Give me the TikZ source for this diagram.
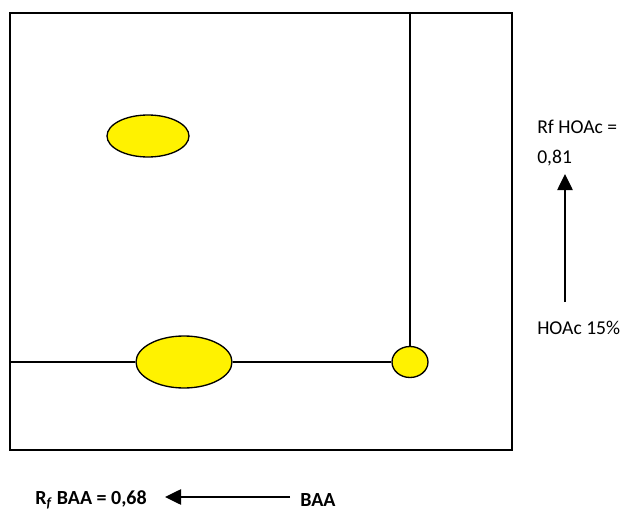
\documentclass[tikz,border=0pt]{standalone}
\usepackage{fontspec}
\setmainfont{Carlito}
\usetikzlibrary{shapes.geometric,arrows.meta}
\begin{document}
\begin{tikzpicture}[x=0.75pt,y=-0.75pt,
  spot/.style={ellipse,draw=black,line width=1pt,fill=yellow,inner sep=0pt},
  plate/.style={draw=black,line width=1.3pt},
  lbl/.style={anchor=west,inner sep=0pt,font=\fontsize{14.7}{17}\selectfont},
  blbl/.style={anchor=west,inner sep=0pt,font=\fontsize{15}{18}\selectfont\bfseries},
  arr/.style={draw=black,line width=1.1pt,-{Triangle[length=12pt,width=11.5pt]}}]
\useasboundingbox (0,0) rectangle (629,510);
\node[plate,rectangle,minimum width=502pt*0.75,minimum height=437pt*0.75,anchor=north west,inner sep=0pt] (box) at (9,12) {};
\node[spot,minimum width=82*0.75pt,minimum height=42*0.75pt] (top) at (148,136) {};
\node[spot,minimum width=96*0.75pt,minimum height=52*0.75pt] (big) at (184,362) {};
\node[spot,minimum width=36*0.75pt,minimum height=31*0.75pt] (small) at (410,362) {};
\coordinate (lstart) at (9,362);
\coordinate (vtop) at (410,12);
\draw[line width=1pt] (lstart) -- (big.west);
\draw[line width=1pt] (big.east) -- (small.west);
\draw[line width=1pt] (vtop) -- (small.north);
\node[lbl] (rfhoac) at (537,127) {Rf HOAc =};
\node[lbl] (val) at (537,158) {0,81};
\node[lbl] (hoac) at (537,328) {HOAc 15\%};
\coordinate (upstart) at (565,302);
\coordinate (uptip) at (565,174);
\draw[arr] (upstart) -- (uptip);
\node[blbl] (rf) at (35,500) {R\textsubscript{\textit{f}} BAA = 0,68};
\node[blbl] (baa) at (300,500) {BAA};
\coordinate (ltail) at (290,497);
\coordinate (ltip) at (165,497);
\draw[arr] (ltail) -- (ltip);
\end{tikzpicture}
\end{document}
